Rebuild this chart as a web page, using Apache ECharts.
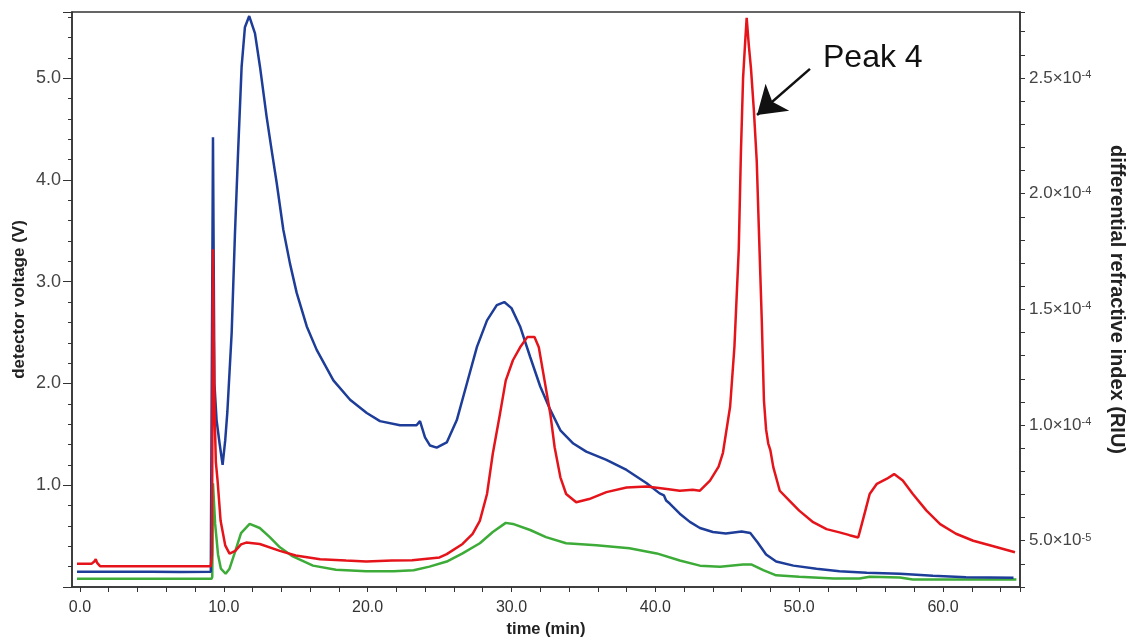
<!DOCTYPE html>
<html>
<head>
<meta charset="utf-8">
<script src="https://cdn.jsdelivr.net/npm/echarts@6/dist/echarts.min.js"></script>
<style>
  html, body { margin: 0; padding: 0; background: #fff; }
  #chart { width: 1128px; height: 638px; }
</style>
</head>
<body>
<div id="chart"></div>
<script>
// time axis (min) and detector / RI readings
var blueT = [-0.2, 1.0, 3.0, 5.0, 7.0, 9.1, 9.2, 9.25, 9.3, 9.35, 9.5, 9.7, 9.92, 10.1, 10.25, 10.55, 10.78, 11.0, 11.24, 11.47,
  11.77, 12.17, 12.52, 12.98, 13.33, 13.68, 14.14, 14.6, 15.07, 15.77, 16.46, 17.62, 18.78, 19.94, 20.86, 22.25, 23.4, 23.64, 23.99, 24.34,
  24.8, 25.5, 26.2, 26.9, 27.6, 28.3, 28.98, 29.5, 30.0, 30.6, 31.3, 32.0, 32.7, 33.4, 34.3, 35.2, 36.6, 38.0, 39.4, 40.3,
  40.6, 40.75, 41.0, 41.7, 42.4, 43.1, 44.0, 44.9, 46.0, 46.6, 47.1, 47.7, 48.4, 49.6, 51.2, 52.8, 54.7, 57.0, 59.3, 61.6, 64.9];
var blueV = [0.15, 0.15, 0.15, 0.15, 0.148, 0.15, 0.16, 4.42, 3.2, 2.0, 1.64, 1.42, 1.2, 1.44, 1.72, 2.5, 3.48, 4.29, 5.11, 5.5,
  5.61, 5.44, 5.11, 4.62, 4.29, 3.97, 3.51, 3.18, 2.89, 2.56, 2.33, 2.03, 1.84, 1.71, 1.63, 1.59, 1.59, 1.63, 1.47, 1.39,
  1.37, 1.42, 1.64, 2.0, 2.36, 2.62, 2.77, 2.80, 2.74, 2.56, 2.26, 1.97, 1.74, 1.54, 1.41, 1.33, 1.25, 1.15, 1.02, 0.92,
  0.90, 0.85, 0.82, 0.72, 0.64, 0.58, 0.54, 0.525, 0.545, 0.53, 0.44, 0.32, 0.25, 0.21, 0.18, 0.155, 0.14, 0.13, 0.11, 0.095, 0.09];

var greenT = [-0.2, 9.15, 9.2, 9.25, 9.4, 9.6, 9.8, 10.13, 10.4, 10.75, 11.2, 11.8, 12.5, 13.2, 13.9, 14.8, 16.2, 17.8, 19.9, 21.8,
  23.2, 24.3, 25.5, 26.6, 27.8, 28.7, 29.6, 30.1, 31.3, 32.4, 33.8, 35.9, 38.2, 40.1, 41.7, 43.1, 44.5, 46.1, 46.7, 47.5,
  48.4, 50.0, 52.4, 54.2, 54.9, 57.0, 57.9, 60.4, 65.1];
var greenV = [0.08, 0.08, 0.1, 1.02, 0.62, 0.32, 0.18, 0.13, 0.18, 0.33, 0.53, 0.62, 0.58, 0.49, 0.39, 0.30, 0.21, 0.17, 0.155, 0.155,
  0.165, 0.20, 0.25, 0.33, 0.43, 0.54, 0.63, 0.62, 0.56, 0.49, 0.43, 0.41, 0.38, 0.33, 0.26, 0.21, 0.20, 0.22, 0.22, 0.165,
  0.115, 0.10, 0.083, 0.083, 0.10, 0.093, 0.073, 0.073, 0.073];

var redT = [-0.2, 0.8, 1.0, 1.1, 1.2, 1.4, 3, 5, 7, 9.1, 9.18, 9.25, 9.3, 9.36, 9.45, 9.57, 9.78, 10.1, 10.4, 10.8,
  11.2, 11.56, 12.5, 13.9, 15.0, 16.7, 18.5, 19.9, 21.7, 23.1, 25.0, 25.5, 26.6, 27.3, 27.8, 28.3, 28.7, 29.2, 29.6, 30.1,
  30.6, 31.1, 31.6, 31.9, 32.3, 32.7, 33.0, 33.4, 33.8, 34.5, 35.4, 36.6, 38.0, 39.4, 40.8, 41.7, 42.6, 43.1, 43.8, 44.4,
  44.7, 44.9, 45.2, 45.5, 45.8, 45.95, 46.1, 46.25, 46.35, 46.5, 46.65, 46.85, 47.05, 47.2, 47.4, 47.55, 47.7, 47.85, 48.0, 48.2,
  48.65, 49.3, 50.0, 50.97, 51.9, 52.8, 53.5, 54.1, 54.2, 54.6, 54.9, 55.4, 56.1, 56.6, 57.2, 57.9, 58.85, 59.8, 60.9, 62.1,
  63.5, 65.0];
// red in units of 1e-5 RIU
var redR = [4.0, 4.0, 4.1, 4.2, 4.04, 3.9, 3.9, 3.9, 3.9, 3.9, 4.4, 17.6, 14.0, 10.6, 8.4, 7.6, 5.86, 4.8, 4.44, 4.56,
  4.84, 4.92, 4.86, 4.56, 4.36, 4.2, 4.14, 4.1, 4.14, 4.16, 4.28, 4.42, 4.86, 5.3, 5.86, 7.02, 8.76, 10.48, 11.92, 12.8,
  13.36, 13.8, 13.8, 13.36, 11.92, 10.48, 9.04, 7.74, 7.02, 6.66, 6.8, 7.1, 7.3, 7.34, 7.24, 7.16, 7.2, 7.16, 7.6, 8.2,
  8.8, 9.6, 10.8, 13.4, 17.6, 21.8, 25.0, 26.6, 27.6, 26.4, 25.4, 23.6, 21.4, 18.4, 14.52, 11.06, 9.8, 9.2, 8.9, 8.18,
  7.16, 6.74, 6.3, 5.8, 5.5, 5.36, 5.24, 5.14, 5.36, 6.3, 7.02, 7.46, 7.68, 7.88, 7.6, 7.02, 6.3, 5.72, 5.3, 5.0,
  4.76, 4.5];

var xTicks = [0, 10, 20, 30, 40, 50, 60];

function pairs(xs, ys, k) {
  var out = [];
  for (var i = 0; i < xs.length; i++) out.push([xs[i], ys[i] * (k || 1)]);
  return out;
}

var font = 'Liberation Sans, Arial, sans-serif';
var axisColor = '#333';

// plot frame
var xMin = -0.55, xMax = 65.35;
var gLeft = 72, gRight = 108, gTop = 12, gBottom = 51;
var pxPerMin = (1128 - gLeft - gRight) / (xMax - xMin);
var tickLeft = gLeft + (0 - xMin) * pxPerMin; // tick grid starts at t = 0

function sci(v) {
  var k = Math.round(v / 1e-5 * 10) / 10;
  if (Math.abs(k % 5) > 1e-6) return '';
  var e = -5, m = k;
  if (m >= 10) { m = m / 10; e = -4; }
  return '{a|' + m.toFixed(1) + '\u00d710}{b|' + e + '}';
}

var chart = echarts.init(document.getElementById('chart'));
chart.setOption({
  animation: false,
  backgroundColor: '#fff',
  grid: [
    { left: gLeft, right: gRight, top: gTop, bottom: gBottom, show: true, borderColor: axisColor, borderWidth: 1.5, outerBoundsMode: 'none' },
    { left: tickLeft, right: gRight, top: gTop, bottom: gBottom, show: false, outerBoundsMode: 'none' }
  ],
  xAxis: [{
    type: 'value', gridIndex: 0, min: xMin, max: xMax,
    name: 'time (min)', nameLocation: 'middle', nameGap: 34,
    nameTextStyle: { fontFamily: font, fontWeight: 'bold', fontSize: 16.5, color: '#222' },
    axisLine: { onZero: false, lineStyle: { color: axisColor, width: 1.5 } },
    axisTick: { show: false },
    axisLabel: { show: false },
    splitLine: { show: false }
  }, {
    type: 'value', gridIndex: 1, min: 0, max: xMax, interval: 2,
    axisLine: { show: false, onZero: false },
    axisTick: { length: 5, lineStyle: { color: axisColor } },
    axisLabel: {
      margin: 13, fontFamily: font, fontSize: 16, color: '#333',
      formatter: function (v) { var r = Math.round(v); return (Math.abs(v - r) < 1e-6 && xTicks.indexOf(r) >= 0) ? r.toFixed(1) : ''; }
    },
    splitLine: { show: false }
  }],
  yAxis: [{
    type: 'value', gridIndex: 0, position: 'left', min: 0, max: 5.65, interval: 0.2,
    name: 'detector voltage (V)', nameLocation: 'middle', nameGap: 44, nameRotate: 90, nameMoveOverlap: false,
    nameTextStyle: { fontFamily: font, fontWeight: 'bold', fontSize: 17, color: '#222' },
    axisLine: { show: true, onZero: false, lineStyle: { color: axisColor, width: 1.5 } },
    axisTick: { length: 4, lineStyle: { color: axisColor } },
    axisLabel: {
      margin: 11, fontFamily: font, fontSize: 18, color: '#444',
      formatter: function (v) { var r = Math.round(v); return (Math.abs(v - r) < 1e-6 && r >= 1 && r <= 5) ? r.toFixed(1) : ''; }
    },
    splitLine: { show: false }
  }, {
    type: 'value', gridIndex: 0, position: 'left', min: 0, max: 5.65, interval: 1,
    axisLine: { show: false, onZero: false },
    axisTick: { length: 9, lineStyle: { color: axisColor } },
    axisLabel: { show: false },
    splitLine: { show: false }
  }, {
    type: 'value', gridIndex: 0, position: 'right', min: 3e-5, max: 2.785e-4, interval: 1e-5,
    name: 'differential refractive index (RIU)', nameLocation: 'middle', nameGap: 87, nameRotate: -90, nameMoveOverlap: false,
    nameTextStyle: { fontFamily: font, fontWeight: 'bold', fontSize: 20, color: '#222' },
    axisLine: { show: true, onZero: false, lineStyle: { color: axisColor, width: 1.5 } },
    axisTick: { length: 5, lineStyle: { color: axisColor } },
    axisLabel: {
      margin: 9, formatter: sci,
      rich: {
        a: { fontFamily: font, fontSize: 17, color: '#444' },
        b: { fontFamily: font, fontSize: 11, color: '#444', verticalAlign: 'top' }
      }
    },
    splitLine: { show: false }
  }, {
    type: 'value', gridIndex: 1, show: false, min: 0, max: 1
  }],
  series: [{
    name: 'green', type: 'line', xAxisIndex: 0, yAxisIndex: 0, showSymbol: false, symbol: 'none',
    lineStyle: { color: '#3dab38', width: 2.5 }, data: pairs(greenT, greenV)
  }, {
    name: 'blue', type: 'line', xAxisIndex: 0, yAxisIndex: 0, showSymbol: false, symbol: 'none',
    lineStyle: { color: '#1d3d99', width: 2.5 }, data: pairs(blueT, blueV)
  }, {
    name: 'red', type: 'line', xAxisIndex: 0, yAxisIndex: 2, showSymbol: false, symbol: 'none',
    lineStyle: { color: '#e5141b', width: 2.5 }, data: pairs(redT, redR, 1e-5),
    markLine: {
      silent: true, symbol: ['none', 'arrow'], symbolSize: 27,
      lineStyle: { color: '#111', width: 2.5, type: 'solid' },
      itemStyle: { color: '#111' },
      label: { show: false },
      data: [[{ coord: [50.75, 25.39e-5] }, { coord: [47.07, 23.4e-5] }]]
    }
  }],
  graphic: [{
    type: 'text', x: 823, y: 58,
    style: { text: 'Peak 4', font: '32px Liberation Sans, Arial, sans-serif', fill: '#111', verticalAlign: 'middle', align: 'left' }
  }]
});
</script>
</body>
</html>
